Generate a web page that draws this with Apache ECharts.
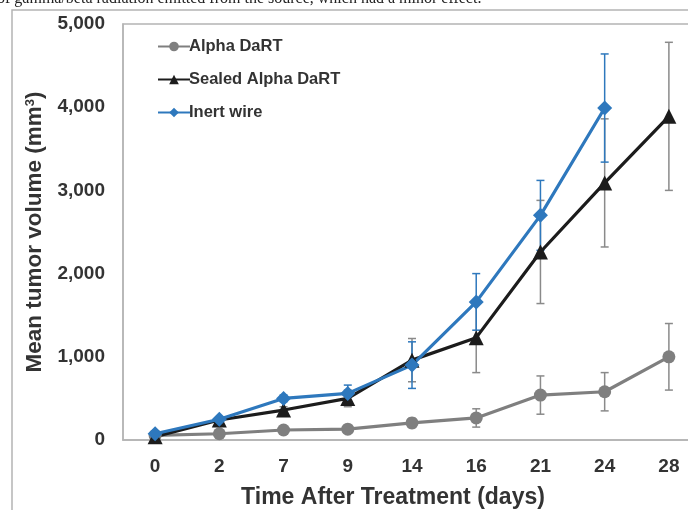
<!DOCTYPE html>
<html>
<head>
<meta charset="utf-8">
<script src="https://cdn.jsdelivr.net/npm/echarts@6/dist/echarts.min.js"></script>
<style>
  html, body { margin: 0; padding: 0; background: #fff; }
  #main { width: 688px; height: 510px; }
</style>
</head>
<body>
<div id="main"></div>
<script>
var days = ["0", "2", "7", "9", "14", "16", "21", "24", "28"];
var yTicks = [0, 1000, 2000, 3000, 4000, 5000];

// mean tumor volume, mm3
var alphaMean = [55, 75, 120, 130, 205, 265, 540, 580, 1000];
var alphaErr = [10, 20, 30, 30, 55, 110, 230, 230, 400];
var sealedMean = [40, 240, 360, 500, 960, 1230, 2260, 3090, 3890];
var sealedErr = [10, 30, 40, 100, 260, 420, 620, 770, 890];
var inertMean = [75, 250, 500, 560, 900, 1660, 2700, 3990];
var inertErr = [15, 30, 40, 100, 280, 340, 420, 650];

var C = {
  gray: "#7f7f7f",
  black: "#1c1c1c",
  blue: "#2e78bd",
  errGray: "#8a8a8a",
  frame: "#b4b4b4",
  text: "#333333"
};

function errSeries(name, mean, err, color) {
  var data = mean.map(function (m, i) { return [i, m - err[i], m + err[i]]; });
  return {
    name: name + " err",
    type: "custom",
    z: 1,
    silent: true,
    data: data,
    renderItem: function (params, api) {
      var x = api.coord([api.value(0), 0])[0];
      var lo = api.coord([api.value(0), api.value(1)])[1];
      var hi = api.coord([api.value(0), api.value(2)])[1];
      var st = { stroke: color, lineWidth: 1.5 };
      return {
        type: "group",
        children: [
          { type: "line", shape: { x1: x, y1: lo, x2: x, y2: hi }, style: st },
          { type: "line", shape: { x1: x - 4, y1: lo, x2: x + 4, y2: lo }, style: st },
          { type: "line", shape: { x1: x - 4, y1: hi, x2: x + 4, y2: hi }, style: st }
        ]
      };
    }
  };
}

function lineSeries(name, mean, color, symbol, size) {
  return {
    name: name,
    type: "line",
    z: 3,
    data: mean,
    symbol: symbol,
    symbolSize: size,
    itemStyle: { color: color },
    lineStyle: { color: color, width: 3.2 }
  };
}

var chart = echarts.init(document.getElementById("main"));
chart.setOption({
  animation: false,
  textStyle: { fontFamily: "Liberation Sans, Arial, sans-serif" },
  graphic: [
    {
      type: "text",
      left: -3,
      top: -9,
      style: {
        text: "of gamma/beta radiation emitted from the source, which had a minor effect.",
        font: "16px 'Liberation Serif', serif",
        fill: "#222"
      }
    },
    {
      type: "rect",
      shape: { x: 12, y: 10, width: 700, height: 520 },
      style: { fill: "none", stroke: C.frame, lineWidth: 1.5 },
      silent: true
    }
  ],
  legend: {
    orient: "vertical",
    left: 152,
    top: 33,
    itemWidth: 32,
    itemHeight: 12,
    itemGap: 16,
    data: ["Alpha DaRT", "Sealed Alpha DaRT", "Inert wire"],
    textStyle: { color: C.text, fontSize: 16.5, fontWeight: "bold", padding: [0, 0, 0, -6] }
  },
  grid: {
    left: 123, top: 24, width: 578, bottom: 70,
    outerBoundsMode: "none",
    show: true, borderColor: C.frame, borderWidth: 1.5
  },
  xAxis: {
    type: "category",
    data: days,
    boundaryGap: true,
    name: "Time After Treatment (days)",
    nameLocation: "middle",
    nameGap: 46,
    nameTextStyle: { color: C.text, fontSize: 23, fontWeight: "bold", padding: [0, 38, 0, 0] },
    axisLine: { lineStyle: { color: C.frame, width: 1.5 } },
    axisTick: { show: false },
    axisLabel: { color: C.text, fontSize: 19, fontWeight: "bold", margin: 17 }
  },
  yAxis: {
    type: "value",
    min: yTicks[0],
    max: yTicks[yTicks.length - 1],
    interval: 1000,
    name: "Mean tumor volume (mm{sup|3})",
    nameLocation: "middle",
    nameGap: 76,
    nameTextStyle: {
      color: C.text, fontSize: 22.5, fontWeight: "bold",
      rich: { sup: { fontSize: 13, fontWeight: "bold", color: C.text, verticalAlign: "top", padding: [0, 0, 10, 0] } }
    },
    axisLine: { show: true, lineStyle: { color: C.frame, width: 1.5 } },
    axisTick: { show: false },
    splitLine: { show: false },
    axisLabel: {
      color: C.text, fontSize: 19, fontWeight: "bold", margin: 18,
      formatter: function (v) { return v.toLocaleString("en-US"); }
    }
  },
  series: [
    errSeries("Alpha DaRT", alphaMean, alphaErr, C.errGray),
    errSeries("Sealed Alpha DaRT", sealedMean, sealedErr, C.errGray),
    errSeries("Inert wire", inertMean, inertErr, C.blue),
    lineSeries("Alpha DaRT", alphaMean, C.gray, "circle", 13),
    lineSeries("Sealed Alpha DaRT", sealedMean, C.black, "triangle", 15),
    lineSeries("Inert wire", inertMean, C.blue, "diamond", 15)
  ]
});
</script>
</body>
</html>
